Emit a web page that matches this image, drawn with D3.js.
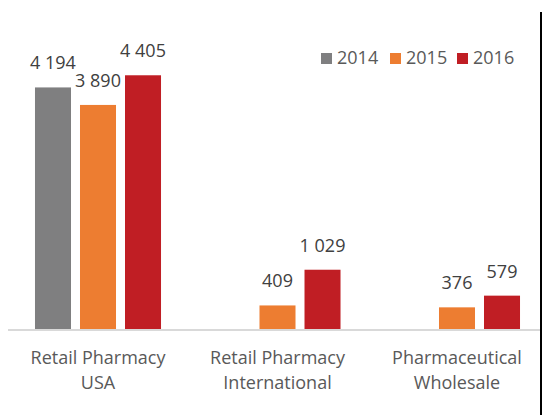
<!DOCTYPE html>
<html>
<head>
<meta charset="utf-8">
<script src="https://cdn.jsdelivr.net/npm/d3@7"></script>
<style>
  body { margin: 0; background: #fff; }
  svg { display: block; font-family: "Open Sans", Lato, sans-serif; }
</style>
</head>
<body>
<div id="chart"></div>
<script>
var categories = [["Retail Pharmacy", "USA"], ["Retail Pharmacy", "International"], ["Pharmaceutical", "Wholesale"]];
var years = ["2014", "2015", "2016"];
var v2014 = [4194, null, null];
var v2015 = [3890, 409, 376];
var v2016 = [4405, 1029, 579];
var colors = ["#7f7f80", "#ed7d31", "#c01e24"];

var width = 542, height = 415;
var baseY = 329, topY = 41;

var series = [v2014, v2015, v2016];
var rows = [];
categories.forEach(function(c, i) {
  years.forEach(function(y, j) {
    if (series[j][i] != null) rows.push({cat: i, year: y, value: series[j][i], color: colors[j]});
  });
});

var fmt = function(v) { return d3.format(",")(v).replace(/,/g, " "); };

var svg = d3.select("#chart").append("svg")
  .attr("width", width)
  .attr("height", height);

var x0 = d3.scaleBand()
  .domain(d3.range(categories.length))
  .range([8.25, 546.75]);

var x1 = d3.scaleBand()
  .domain(years)
  .range([0, x0.bandwidth()])
  .paddingInner(0.2)
  .paddingOuter(0.594);

var y = d3.scaleLinear()
  .domain([0, 5000])
  .range([baseY, topY]);

// bars
svg.selectAll(".bar")
  .data(rows)
  .enter()
  .append("rect")
  .attr("class", "bar")
  .attr("x", function(d) { return x0(d.cat) + x1(d.year); })
  .attr("y", function(d) { return y(d.value); })
  .attr("width", x1.bandwidth())
  .attr("height", function(d) { return baseY - y(d.value); })
  .attr("fill", function(d) { return d.color; });

// value labels
svg.selectAll(".lbl")
  .data(rows)
  .enter()
  .append("text")
  .attr("class", "lbl")
  .attr("x", function(d) { return x0(d.cat) + x1(d.year) + x1.bandwidth() / 2; })
  .attr("y", function(d) { return y(d.value) - 18; })
  .attr("text-anchor", "middle")
  .attr("font-size", 18)
  .attr("fill", "#404040")
  .text(function(d) { return fmt(d.value); });

// axis line
svg.append("line")
  .attr("x1", 8).attr("x2", 542)
  .attr("y1", baseY + 1).attr("y2", baseY + 1)
  .attr("stroke", "#d9d9d9")
  .attr("stroke-width", 2);

// category labels
var cl = svg.selectAll(".cat")
  .data(categories)
  .enter()
  .append("text")
  .attr("class", "cat")
  .attr("text-anchor", "middle")
  .attr("font-size", 18)
  .attr("fill", "#595959");
cl.append("tspan")
  .attr("x", function(d, i) { return x0(i) + x0.bandwidth() / 2; })
  .attr("y", 364)
  .text(function(d) { return d[0]; });
cl.append("tspan")
  .attr("x", function(d, i) { return x0(i) + x0.bandwidth() / 2; })
  .attr("y", 389)
  .text(function(d) { return d[1]; });

// legend
var legX = [321, 390, 457];
var leg = svg.selectAll(".leg")
  .data(years)
  .enter()
  .append("g")
  .attr("class", "leg")
  .attr("transform", function(d, i) { return "translate(" + legX[i] + ",53)"; });
leg.append("rect")
  .attr("width", 11).attr("height", 11)
  .attr("fill", function(d, i) { return colors[i]; });
leg.append("text")
  .attr("x", 16).attr("y", 11)
  .attr("font-size", 18)
  .attr("fill", "#595959")
  .text(function(d) { return d; });

// right border
svg.append("line")
  .attr("x1", 541).attr("x2", 541)
  .attr("y1", 12).attr("y2", height)
  .attr("stroke", "#000")
  .attr("stroke-width", 2);
</script>
</body>
</html>
